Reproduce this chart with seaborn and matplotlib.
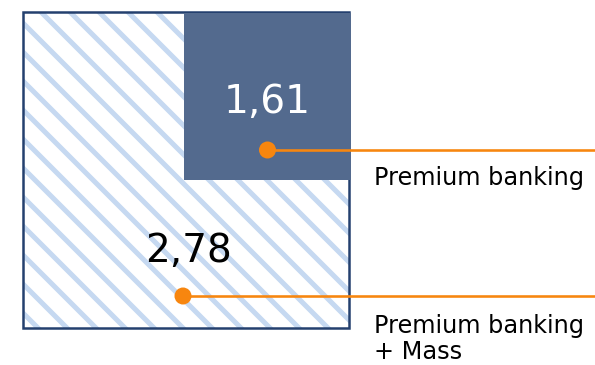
import matplotlib
matplotlib.use("Agg")
import matplotlib.pyplot as plt
import matplotlib.patches as mpatches
import seaborn as sns
import pandas as pd

# ---- data ----
segments = ["Premium banking + Mass", "Premium banking"]
values = [2.78, 1.61]
value_labels = ["2,78", "1,61"]
legend_labels = ["Premium banking\n+ Mass", "Premium banking"]

# ---- style ----
DPI = 174
W, H = 595, 365
px = 72.0 / DPI  # points per pixel

sns.set_theme(style="white")
plt.rcParams['font.family'] = ['DejaVu Sans']
plt.rcParams['hatch.linewidth'] = 5.0 * px

fig = plt.figure(figsize=(W / DPI, H / DPI), dpi=DPI)
ax = fig.add_axes([0, 0, 1, 1])

NAVY = '#24406E'
DARK = '#536A8E'
HATCH = '#C6D9F1'
ORANGE = '#F7860F'

# layout (pixel units)
big = dict(x=23, y=12, w=326, h=316)
small = dict(x=184, y=12, w=167, h=168)

# big square: hatch, then border
ax.add_patch(mpatches.Rectangle((big['x'], big['y']), big['w'], big['h'],
                                facecolor='white', edgecolor=HATCH, lw=0,
                                hatch='\\\\', zorder=1))
ax.add_patch(mpatches.Rectangle((big['x'], big['y']), big['w'], big['h'],
                                facecolor='none', edgecolor=NAVY, lw=2.5 * px,
                                zorder=2))
# small square
ax.add_patch(mpatches.Rectangle((small['x'], small['y'] + 1), small['w'], small['h'] - 1,
                                facecolor=DARK, edgecolor='none', zorder=3))

# value labels
ax.text(small['x'] + small['w'] / 2, 113, value_labels[1], color='white',
        fontsize=39 * px, ha='center', va='baseline', zorder=5)
ax.text(188, 262, value_labels[0], color='black',
        fontsize=39 * px, ha='center', va='baseline', zorder=5)

# leader lines and dots
anchors = pd.DataFrame({
    'segment': segments,
    'x': [183, small['x'] + small['w'] / 2],
    'y': [296, 150],
})
for _, r in anchors.iterrows():
    ax.plot([r['x'], W], [r['y'], r['y']], color=ORANGE, lw=2.6 * px,
            solid_capstyle='butt', zorder=6)
sns.scatterplot(data=anchors, x='x', y='y', ax=ax, color=ORANGE, s=(17 * px) ** 2,
                edgecolor='none', linewidth=0, zorder=7, legend=False)
ax.set_xlim(0, W)
ax.set_ylim(H, 0)
ax.axis('off')

# labels
ax.text(374, 185, legend_labels[1], color='black', fontsize=24 * px,
        ha='left', va='baseline')
ax.text(374, 359, legend_labels[0], color='black', fontsize=24 * px,
        ha='left', va='baseline', linespacing=1.1)

fig.savefig('out.png', dpi=DPI)
